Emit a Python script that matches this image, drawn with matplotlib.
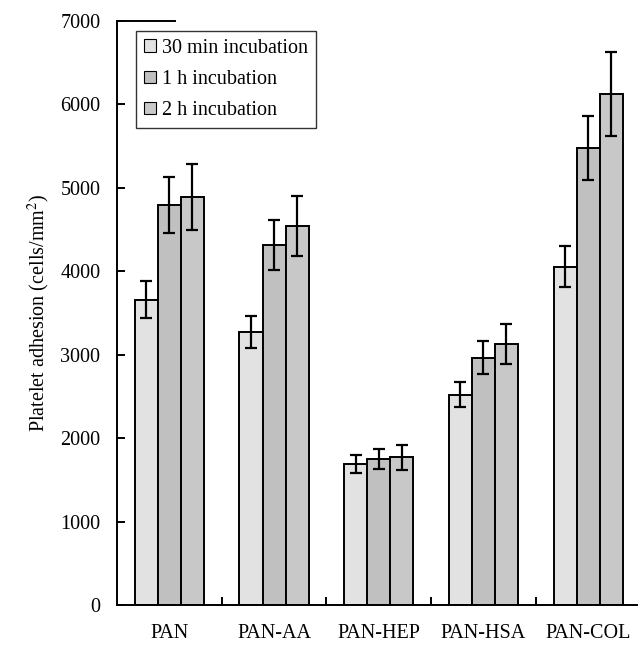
import matplotlib
matplotlib.use("Agg")
import matplotlib.pyplot as plt
import numpy as np

categories = ["PAN", "PAN-AA", "PAN-HEP", "PAN-HSA", "PAN-COL"]
series_names = ["30 min incubation", "1 h incubation", "2 h incubation"]
vals_30min = [3660, 3275, 1690, 2520, 4055]
err_30min = [220, 195, 105, 148, 245]
vals_1h = [4790, 4320, 1750, 2965, 5480]
err_1h = [335, 300, 120, 200, 385]
vals_2h = [4890, 4545, 1770, 3130, 6125]
err_2h = [390, 357, 150, 240, 500]
yticks = [0, 1000, 2000, 3000, 4000, 5000, 6000, 7000]

plt.rcParams['font.family'] = ['Liberation Serif', 'DejaVu Serif']
plt.rcParams['mathtext.fontset'] = 'stix'

FS = 14.5
fig = plt.figure(figsize=(6.38, 6.47), dpi=100)
ax = fig.add_axes([117/638, 42/647, 523.5/638, 584/647])

x = np.arange(len(categories))
w = 0.22
colors = ['#e2e2e2', '#c0c0c0', '#c8c8c8']
data = [(vals_30min, err_30min), (vals_1h, err_1h), (vals_2h, err_2h)]
for i, ((v, e), c, name) in enumerate(zip(data, colors, series_names)):
    ax.bar(x + (i - 1) * w, v, w, color=c, edgecolor='black', linewidth=1.4,
           label=name, zorder=2)
    ax.errorbar(x + (i - 1) * w, v, yerr=e, fmt='none', ecolor='black',
                elinewidth=1.6, capsize=4.2, capthick=1.6, zorder=3)

ax.set_xlim(-0.5, len(categories) - 0.5)
ax.set_ylim(0, 7000)
ax.set_yticks(yticks)
ax.set_yticklabels([str(t) for t in yticks])
ax.set_xticks(x)
ax.set_xticklabels(categories)
ax.set_xticks(np.arange(0.5, len(categories) - 0.5, 1.0), minor=True)
ax.tick_params(axis='x', which='major', length=0, pad=14, labelsize=FS)
ax.tick_params(axis='x', which='minor', direction='in', length=6, width=1.4)
ax.tick_params(axis='y', direction='in', length=6, width=1.4, pad=12, labelsize=FS)

for s in ['top', 'right']:
    ax.spines[s].set_visible(False)
for s in ['left', 'bottom']:
    ax.spines[s].set_linewidth(1.4)
ax.plot([0, 0.11], [1, 1], transform=ax.transAxes, color='black',
        linewidth=1.4, clip_on=False)

ax.set_ylabel("Platelet adhesion (cells/mm$^2$)", fontsize=FS, labelpad=6)

leg = ax.legend(loc='upper left', bbox_to_anchor=(0.036, 0.983), borderaxespad=0,
                fontsize=FS, frameon=True, fancybox=False, edgecolor='black',
                handlelength=0.6, handleheight=0.6, handletextpad=0.3,
                labelspacing=0.6, borderpad=0.4)
leg.get_frame().set_linewidth(1.0)
for h in leg.legend_handles:
    h.set_linewidth(0.8)

fig.savefig("out.png", dpi=100)
